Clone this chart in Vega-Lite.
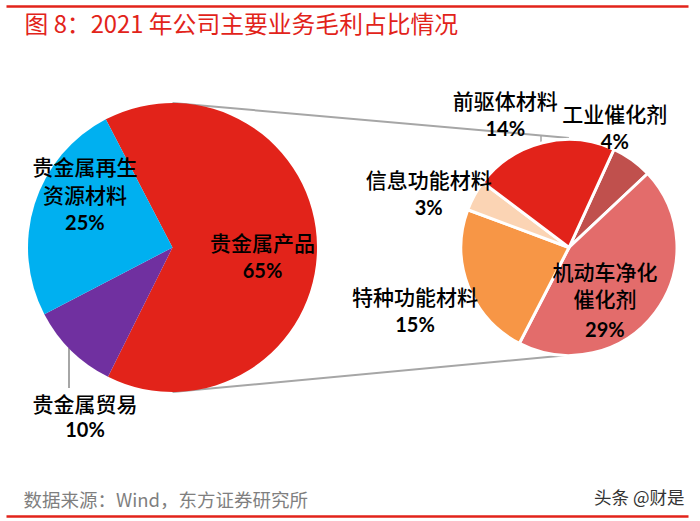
{
  "$schema": "https://vega.github.io/schema/vega-lite/v6.json",
  "width": 682,
  "height": 510,
  "autosize": {"type": "none"},
  "padding": {"left": 6, "top": 6, "right": 12, "bottom": 5},
  "background": "white",
  "config": {
    "view": {"stroke": null},
    "text": {"font": "Noto Sans CJK SC", "fontSize": 21, "fontWeight": 500, "align": "center", "baseline": "middle", "lineBreak": "\n", "color": "#000000"}
  },
  "datasets": {
    "main": [
      {"category": "贵金属产品", "label": "贵金属产品", "share": 0.65, "rank": 1},
      {"category": "贵金属贸易", "label": "贵金属贸易", "share": 0.10, "rank": 2},
      {"category": "贵金属再生资源材料", "label": "贵金属再生\n资源材料", "share": 0.25, "rank": 3}
    ],
    "detail": [
      {"category": "工业催化剂", "label": "工业催化剂", "share": 0.04, "rank": 1},
      {"category": "机动车净化催化剂", "label": "机动车净化\n催化剂", "share": 0.29, "rank": 2},
      {"category": "特种功能材料", "label": "特种功能材料", "share": 0.15, "rank": 3},
      {"category": "信息功能材料", "label": "信息功能材料", "share": 0.03, "rank": 4},
      {"category": "前驱体材料", "label": "前驱体材料", "share": 0.14, "rank": 5}
    ]
  },
  "resolve": {"scale": {"theta": "independent"}, "axis": {"x": "independent", "y": "independent"}},
  "layer": [
    {
      "data": {"values": [{}]},
      "mark": {"type": "rule", "color": "#A6A6A6", "strokeWidth": 2},
      "encoding": {
        "x": {"datum": "main", "type": "nominal",
          "scale": {"type": "point", "domain": ["main", "detail"], "padding": 0.36003, "align": 0.5832},
          "axis": {"orient": "top", "domain": true, "domainColor": "#E2231A", "domainWidth": 2.5, "domainCap": "butt", "ticks": false, "labels": false, "grid": false,
            "title": "图 8：2021 年公司主要业务毛利占比情况", "titleColor": "#E2231A", "titleFont": "Noto Sans CJK SC", "titleFontSize": 23.8, "titleFontWeight": "normal",
            "titleAlign": "left", "titleBaseline": "alphabetic", "titleAngle": 0, "titleX": 18, "titleY": 26}},
        "x2": {"datum": "detail"},
        "y": {"datum": 1, "type": "quantitative", "scale": {"domain": [-1.8581, 1.6713], "nice": false, "zero": false}, "axis": null},
        "y2": {"datum": 0.758}
      }
    },
    {
      "data": {"values": [{}]},
      "mark": {"type": "rule", "color": "#A6A6A6", "strokeWidth": 2},
      "encoding": {
        "x": {"datum": "main", "type": "nominal",
          "axis": {"orient": "bottom", "domain": true, "domainColor": "#E2231A", "domainWidth": 2.5, "domainCap": "butt", "ticks": false, "labels": false, "grid": false,
            "title": "数据来源：Wind，东方证券研究所", "titleColor": "#7F7F7F", "titleFont": "Noto Sans CJK SC", "titleFontSize": 18.5, "titleFontWeight": "normal",
            "titleAlign": "left", "titleBaseline": "alphabetic", "titleAngle": 0, "titleX": 17, "titleY": -10}},
        "x2": {"datum": "detail"},
        "y": {"datum": -1, "type": "quantitative", "axis": null},
        "y2": {"datum": -0.744}
      }
    },
    {
      "data": {"values": [{}]},
      "mark": {"type": "rule", "color": "#A6A6A6", "strokeWidth": 2, "xOffset": -103.5},
      "encoding": {
        "x": {"datum": "main", "type": "nominal", "axis": null},
        "y": {"datum": -0.6955, "type": "quantitative",
          "axis": {"orient": "right", "domain": false, "ticks": false, "labels": false, "grid": false,
            "title": "头条 @财是", "titleColor": "#333333", "titleFont": "Noto Sans CJK SC", "titleFontSize": 17.5, "titleFontWeight": "normal",
            "titleAlign": "right", "titleBaseline": "alphabetic", "titleAngle": 0, "titleX": -4, "titleY": 497}},
        "y2": {"datum": -0.9723}
      }
    },
    {
      "data": {"values": [{}]},
      "mark": {"type": "rule", "color": "#A6A6A6", "strokeWidth": 1.5, "xOffset": -28},
      "encoding": {
        "x": {"datum": "detail", "type": "nominal", "axis": null},
        "y": {"datum": 0.772, "type": "quantitative", "axis": null},
        "y2": {"datum": 0.723}
      }
    },
    {
      "data": {"name": "main"},
      "mark": {"type": "arc", "outerRadius": 144.5},
      "encoding": {
        "x": {"datum": "main", "type": "nominal", "axis": null},
        "y": {"datum": 0, "type": "quantitative", "axis": null},
        "theta": {"field": "share", "type": "quantitative", "stack": true, "scale": {"range": [5.8032, 12.0864]}},
        "order": {"field": "rank"},
        "color": {"field": "category", "type": "nominal", "legend": null,
          "scale": {"domain": ["贵金属产品", "贵金属贸易", "贵金属再生资源材料", "工业催化剂", "机动车净化催化剂", "特种功能材料", "信息功能材料", "前驱体材料"],
            "range": ["#E2231A", "#7030A0", "#00B0F0", "#C0504D", "#E36C6B", "#F79646", "#FBD4B4", "#E2231A"]}}
      }
    },
    {
      "data": {"name": "detail"},
      "mark": {"type": "arc", "outerRadius": 108, "stroke": "white", "strokeWidth": 3},
      "encoding": {
        "x": {"datum": "detail", "type": "nominal", "axis": null},
        "y": {"datum": 0, "type": "quantitative", "axis": null},
        "theta": {"field": "share", "type": "quantitative", "stack": true, "scale": {"range": [0.4294, 6.7126]}},
        "order": {"field": "rank"},
        "color": {"field": "category", "type": "nominal", "legend": null}
      }
    },
    {
      "data": {"name": "main"},
      "mark": {"type": "text", "radius": 90, "dx": 0, "dy": -2.2},
      "encoding": {
        "x": {"datum": "main", "type": "nominal", "axis": null},
        "y": {"datum": 0, "type": "quantitative", "axis": null},
        "theta": {"field": "share", "type": "quantitative", "stack": true, "scale": {"range": [5.8032, 12.0864]}},
        "order": {"field": "rank"},
        "text": {"condition": {"test": "datum.category === '贵金属产品'", "field": "label"}, "value": ""}
      }
    },
    {
      "data": {"name": "main"},
      "mark": {"type": "text", "radius": 90, "dx": 0, "dy": 25.3, "font": "Lato", "fontWeight": "bold", "fontSize": 20},
      "encoding": {
        "x": {"datum": "main", "type": "nominal", "axis": null},
        "y": {"datum": 0, "type": "quantitative", "axis": null},
        "theta": {"field": "share", "type": "quantitative", "stack": true, "scale": {"range": [5.8032, 12.0864]}},
        "order": {"field": "rank"},
        "text": {"condition": {"test": "datum.category === '贵金属产品'", "field": "share", "type": "quantitative", "format": ".0%"}, "value": ""}
      }
    },
    {
      "data": {"name": "main"},
      "mark": {"type": "text", "radius": 95, "dx": 3, "dy": -50, "lineHeight": 28},
      "encoding": {
        "x": {"datum": "main", "type": "nominal", "axis": null},
        "y": {"datum": 0, "type": "quantitative", "axis": null},
        "theta": {"field": "share", "type": "quantitative", "stack": true, "scale": {"range": [5.8032, 12.0864]}},
        "order": {"field": "rank"},
        "text": {"condition": {"test": "datum.category === '贵金属再生资源材料'", "field": "label"}, "value": ""}
      }
    },
    {
      "data": {"name": "main"},
      "mark": {"type": "text", "radius": 95, "dx": 3, "dy": 5.5, "font": "Lato", "fontWeight": "bold", "fontSize": 20},
      "encoding": {
        "x": {"datum": "main", "type": "nominal", "axis": null},
        "y": {"datum": 0, "type": "quantitative", "axis": null},
        "theta": {"field": "share", "type": "quantitative", "stack": true, "scale": {"range": [5.8032, 12.0864]}},
        "order": {"field": "rank"},
        "text": {"condition": {"test": "datum.category === '贵金属再生资源材料'", "field": "share", "type": "quantitative", "format": ".0%"}, "value": ""}
      }
    },
    {
      "data": {"name": "main"},
      "mark": {"type": "text", "radius": 190, "dx": 45.7, "dy": 22.5},
      "encoding": {
        "x": {"datum": "main", "type": "nominal", "axis": null},
        "y": {"datum": 0, "type": "quantitative", "axis": null},
        "theta": {"field": "share", "type": "quantitative", "stack": true, "scale": {"range": [5.8032, 12.0864]}},
        "order": {"field": "rank"},
        "text": {"condition": {"test": "datum.category === '贵金属贸易'", "field": "label"}, "value": ""}
      }
    },
    {
      "data": {"name": "main"},
      "mark": {"type": "text", "radius": 190, "dx": 45.7, "dy": 48, "font": "Lato", "fontWeight": "bold", "fontSize": 20},
      "encoding": {
        "x": {"datum": "main", "type": "nominal", "axis": null},
        "y": {"datum": 0, "type": "quantitative", "axis": null},
        "theta": {"field": "share", "type": "quantitative", "stack": true, "scale": {"range": [5.8032, 12.0864]}},
        "order": {"field": "rank"},
        "text": {"condition": {"test": "datum.category === '贵金属贸易'", "field": "share", "type": "quantitative", "format": ".0%"}, "value": ""}
      }
    },
    {
      "data": {"name": "detail"},
      "mark": {"type": "text", "radius": 130, "dx": -30, "dy": -26.4},
      "encoding": {
        "x": {"datum": "detail", "type": "nominal", "axis": null},
        "y": {"datum": 0, "type": "quantitative", "axis": null},
        "theta": {"field": "share", "type": "quantitative", "stack": true, "scale": {"range": [0.4294, 6.7126]}},
        "order": {"field": "rank"},
        "text": {"condition": {"test": "datum.category === '工业催化剂'", "field": "label"}, "value": ""}
      }
    },
    {
      "data": {"name": "detail"},
      "mark": {"type": "text", "radius": 130, "dx": -30, "dy": 1.1, "font": "Lato", "fontWeight": "bold", "fontSize": 20},
      "encoding": {
        "x": {"datum": "detail", "type": "nominal", "axis": null},
        "y": {"datum": 0, "type": "quantitative", "axis": null},
        "theta": {"field": "share", "type": "quantitative", "stack": true, "scale": {"range": [0.4294, 6.7126]}},
        "order": {"field": "rank"},
        "text": {"condition": {"test": "datum.category === '工业催化剂'", "field": "share", "type": "quantitative", "format": ".0%"}, "value": ""}
      }
    },
    {
      "data": {"name": "detail"},
      "mark": {"type": "text", "radius": 50, "dx": -4, "dy": -3.8, "lineHeight": 27.5},
      "encoding": {
        "x": {"datum": "detail", "type": "nominal", "axis": null},
        "y": {"datum": 0, "type": "quantitative", "axis": null},
        "theta": {"field": "share", "type": "quantitative", "stack": true, "scale": {"range": [0.4294, 6.7126]}},
        "order": {"field": "rank"},
        "text": {"condition": {"test": "datum.category === '机动车净化催化剂'", "field": "label"}, "value": ""}
      }
    },
    {
      "data": {"name": "detail"},
      "mark": {"type": "text", "radius": 50, "dx": -4, "dy": 53, "font": "Lato", "fontWeight": "bold", "fontSize": 20},
      "encoding": {
        "x": {"datum": "detail", "type": "nominal", "axis": null},
        "y": {"datum": 0, "type": "quantitative", "axis": null},
        "theta": {"field": "share", "type": "quantitative", "stack": true, "scale": {"range": [0.4294, 6.7126]}},
        "order": {"field": "rank"},
        "text": {"condition": {"test": "datum.category === '机动车净化催化剂'", "field": "share", "type": "quantitative", "format": ".0%"}, "value": ""}
      }
    },
    {
      "data": {"name": "detail"},
      "mark": {"type": "text", "radius": 160, "dx": -4.7, "dy": -6.1},
      "encoding": {
        "x": {"datum": "detail", "type": "nominal", "axis": null},
        "y": {"datum": 0, "type": "quantitative", "axis": null},
        "theta": {"field": "share", "type": "quantitative", "stack": true, "scale": {"range": [0.4294, 6.7126]}},
        "order": {"field": "rank"},
        "text": {"condition": {"test": "datum.category === '特种功能材料'", "field": "label"}, "value": ""}
      }
    },
    {
      "data": {"name": "detail"},
      "mark": {"type": "text", "radius": 160, "dx": -4.7, "dy": 21.4, "font": "Lato", "fontWeight": "bold", "fontSize": 20},
      "encoding": {
        "x": {"datum": "detail", "type": "nominal", "axis": null},
        "y": {"datum": 0, "type": "quantitative", "axis": null},
        "theta": {"field": "share", "type": "quantitative", "stack": true, "scale": {"range": [0.4294, 6.7126]}},
        "order": {"field": "rank"},
        "text": {"condition": {"test": "datum.category === '特种功能材料'", "field": "share", "type": "quantitative", "format": ".0%"}, "value": ""}
      }
    },
    {
      "data": {"name": "detail"},
      "mark": {"type": "text", "radius": 160, "dx": 0, "dy": 11.1},
      "encoding": {
        "x": {"datum": "detail", "type": "nominal", "axis": null},
        "y": {"datum": 0, "type": "quantitative", "axis": null},
        "theta": {"field": "share", "type": "quantitative", "stack": true, "scale": {"range": [0.4294, 6.7126]}},
        "order": {"field": "rank"},
        "text": {"condition": {"test": "datum.category === '信息功能材料'", "field": "label"}, "value": ""}
      }
    },
    {
      "data": {"name": "detail"},
      "mark": {"type": "text", "radius": 160, "dx": 0, "dy": 38.1, "font": "Lato", "fontWeight": "bold", "fontSize": 20},
      "encoding": {
        "x": {"datum": "detail", "type": "nominal", "axis": null},
        "y": {"datum": 0, "type": "quantitative", "axis": null},
        "theta": {"field": "share", "type": "quantitative", "stack": true, "scale": {"range": [0.4294, 6.7126]}},
        "order": {"field": "rank"},
        "text": {"condition": {"test": "datum.category === '信息功能材料'", "field": "share", "type": "quantitative", "format": ".0%"}, "value": ""}
      }
    },
    {
      "data": {"name": "detail"},
      "mark": {"type": "text", "radius": 150, "dx": -27, "dy": 1},
      "encoding": {
        "x": {"datum": "detail", "type": "nominal", "axis": null},
        "y": {"datum": 0, "type": "quantitative", "axis": null},
        "theta": {"field": "share", "type": "quantitative", "stack": true, "scale": {"range": [0.4294, 6.7126]}},
        "order": {"field": "rank"},
        "text": {"condition": {"test": "datum.category === '前驱体材料'", "field": "label"}, "value": ""}
      }
    },
    {
      "data": {"name": "detail"},
      "mark": {"type": "text", "radius": 150, "dx": -27, "dy": 27.5, "font": "Lato", "fontWeight": "bold", "fontSize": 20},
      "encoding": {
        "x": {"datum": "detail", "type": "nominal", "axis": null},
        "y": {"datum": 0, "type": "quantitative", "axis": null},
        "theta": {"field": "share", "type": "quantitative", "stack": true, "scale": {"range": [0.4294, 6.7126]}},
        "order": {"field": "rank"},
        "text": {"condition": {"test": "datum.category === '前驱体材料'", "field": "share", "type": "quantitative", "format": ".0%"}, "value": ""}
      }
    }
  ]
}
